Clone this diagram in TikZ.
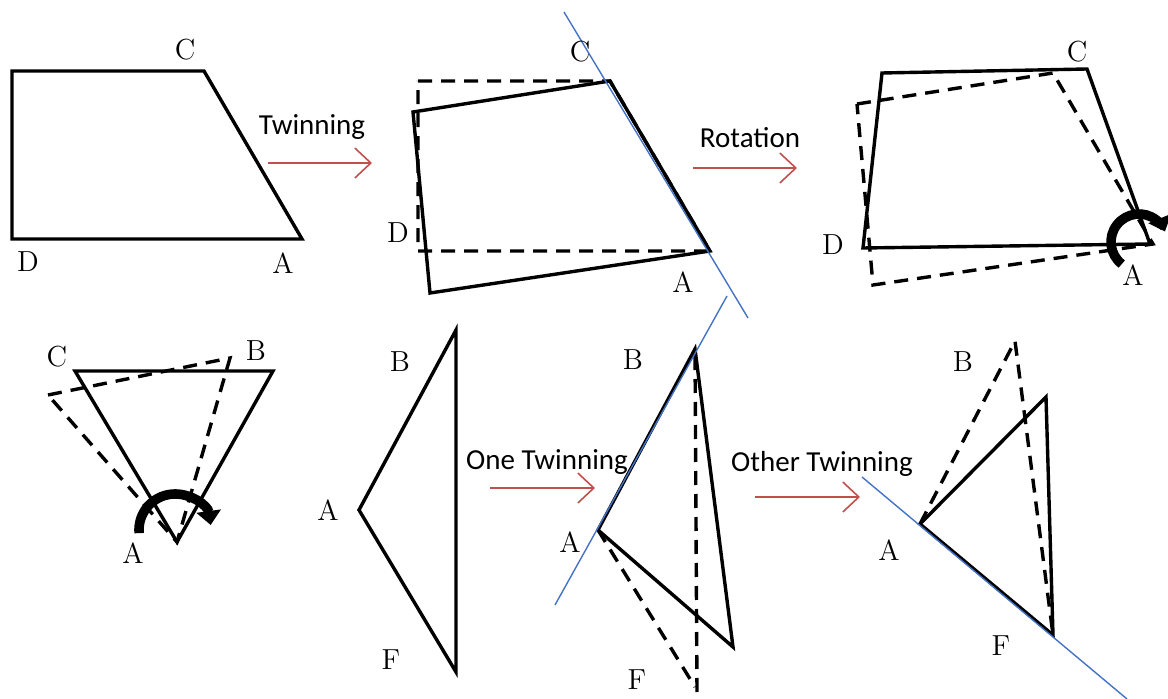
\documentclass[tikz,border=0pt]{standalone}
\usepackage{fontspec}
\newfontfamily\wordfont{Carlito}
\usetikzlibrary{arrows.meta,calc}
\definecolor{twinred}{RGB}{192,80,77}
\definecolor{planeblue}{RGB}{68,114,196}
\begin{document}
\begin{tikzpicture}[x=0.5pt,y=-0.5pt,line width=1.7pt,every node/.style={font=\fontsize{14.5}{16}\selectfont,inner sep=1pt},
  dashes/.style={dash pattern=on 7pt off 4.5pt},
  plane/.style={planeblue,line width=0.7pt},
  process/.style={twinred,line width=0.8pt,-{Straight Barb[length=8pt,width=15pt]}},
  turn/.style={line width=4.8pt,-{Triangle[length=7pt,width=12pt]}},
  word/.style={font=\wordfont\fontsize{14.5}{16}\selectfont}]
\useasboundingbox (0,0) rectangle (1168,699);
\coordinate (D1) at (12,239);
\coordinate (T1) at (12,71);
\coordinate (C1) at (204,71);
\coordinate (A1) at (302,239);
\coordinate (D2) at (430,293);
\coordinate (T2) at (413,112);
\coordinate (C2) at (610,81);
\coordinate (A2) at (710,251);
\coordinate (Dd2) at (418,251);
\coordinate (Td2) at (418,81);
\coordinate (D3) at (863,248);
\coordinate (T3) at (882,73);
\coordinate (C3) at (1087,69);
\coordinate (A3) at (1150,244);
\coordinate (Dd3) at (873,285);
\coordinate (Td3) at (857,104);
\coordinate (Cd3) at (1053,73);
\coordinate (Ad3) at (1153,244);
\coordinate (C4) at (75,371);
\coordinate (B4) at (273,371);
\coordinate (A4) at (177,542);
\coordinate (Cd4) at (48,395);
\coordinate (Bd4) at (230,358);
\coordinate (B5) at (456,330);
\coordinate (A5) at (359,510);
\coordinate (F5) at (456,672);
\coordinate (B6) at (695,349);
\coordinate (A6) at (598,530);
\coordinate (F6) at (733,647);
\coordinate (Bd6) at (697,692);
\coordinate (Fd6) at (695,687);
\coordinate (A7) at (920,524);
\coordinate (B7) at (1046,397);
\coordinate (F7) at (1053,635);
\coordinate (Bd7) at (1015,341);
\draw (T1) -- (C1) -- (A1) -- (D1) -- cycle;
\draw (T2) -- (C2) -- (A2) -- (D2) -- cycle;
\draw (T3) -- (C3) -- (A3) -- (D3) -- cycle;
\draw (C4) -- (B4) -- (A4) -- cycle;
\draw (B5) -- (A5) -- (F5) -- cycle;
\draw (B6) -- (A6) -- (F6) -- cycle;
\draw (A7) -- (B7) -- (F7) -- cycle;
\begin{scope}[dashes]
\draw (Td2) -- (C2) -- (A2) -- (Dd2) -- cycle;
\draw (Td3) -- (Cd3) -- (Ad3) -- (Dd3) -- cycle;
\draw (Cd4) -- (Bd4) -- (A4) -- cycle;
\draw (Bd6) -- (B6);
\draw (A6) -- (Fd6);
\draw (A7) -- (Bd7) -- (F7);
\end{scope}
\draw[plane] (564,12) -- (748,318);
\draw[plane] (555,605) -- (727,296);
\draw[plane] (862,477) -- (1127,699);
\draw[turn] ($(1139,242)+(128:28)$) arc[start angle=128,end angle=338,radius=28];
\draw[turn] ($(175,530)+(175:36)$) arc[start angle=175,end angle=352,radius=36];
\coordinate (s1) at (268,163);
\coordinate (e1) at (372,163);
\coordinate (s2) at (693,168);
\coordinate (e2) at (797,168);
\coordinate (s3) at (490,488);
\coordinate (e3) at (595,488);
\coordinate (s4) at (755,497);
\coordinate (e4) at (860,497);
\draw[process] (s1) -- (e1);
\draw[process] (s2) -- (e2);
\draw[process] (s3) -- (e3);
\draw[process] (s4) -- (e4);
\node[word] (w1) at (312,127) {Twinning};
\node[word] (w2) at (750,138) {Rotation};
\node[word] (w3) at (547,462) {One Twinning};
\node[word] (w4) at (822,464) {Other Twinning};
\node (lC1) at (185,50) {C};
\node (lD1) at (28,262) {D};
\node (lA1) at (283,263) {A};
\node (lC2) at (580,52) {C};
\node (lD2) at (398,233) {D};
\node (lA2) at (683,282) {A};
\node (lC3) at (1077,52) {C};
\node (lD3) at (833,245) {D};
\node (lA3) at (1133,275) {A};
\node (lC4) at (57,357) {C};
\node (lB4) at (256,351) {B};
\node (lA4) at (133,553) {A};
\node (lB5) at (400,362) {B};
\node (lA5) at (328,510) {A};
\node (lF5) at (391,660) {F};
\node (lB6) at (633,360) {B};
\node (lA6) at (570,542) {A};
\node (lF6) at (637,680) {F};
\node (lB7) at (963,362) {B};
\node (lA7) at (889,550) {A};
\node (lF7) at (1001,646) {F};
\end{tikzpicture}
\end{document}
